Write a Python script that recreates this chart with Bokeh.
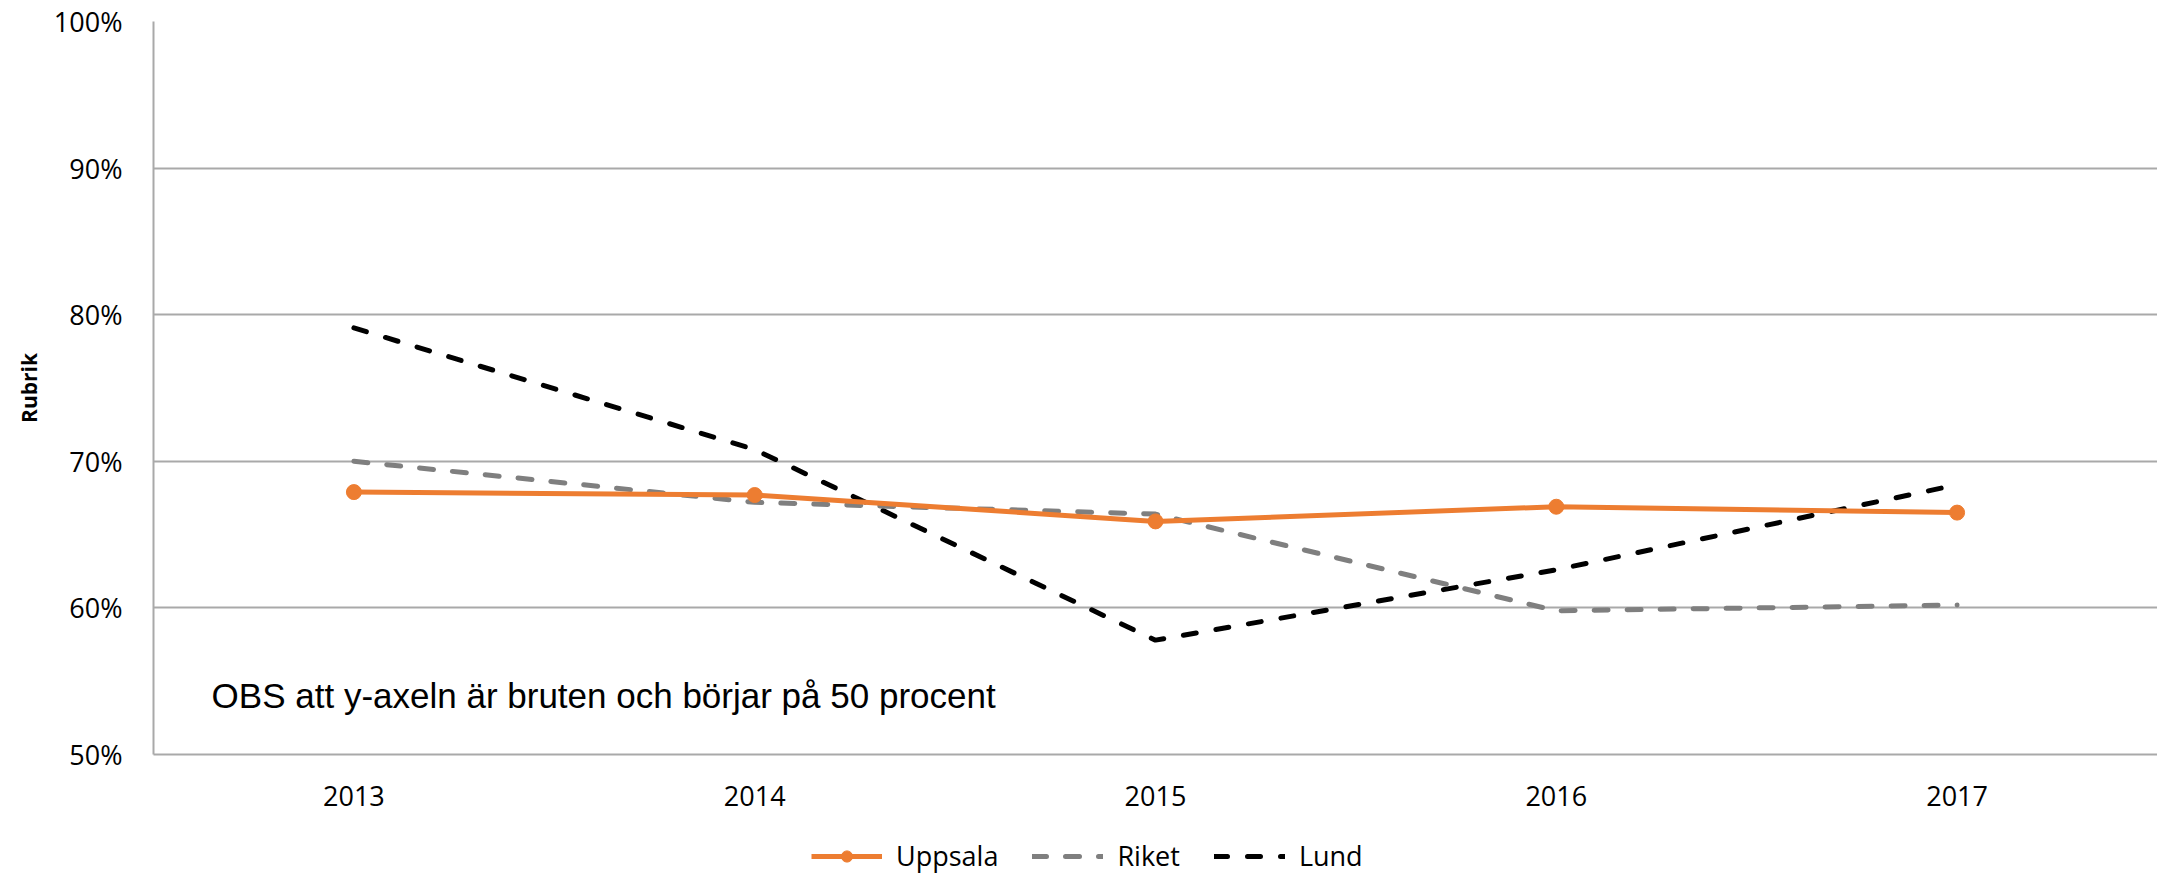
from bokeh.plotting import figure
from bokeh.layouts import column, row
from bokeh.models import (Range1d, FixedTicker, PrintfTickFormatter, Legend,
                          LegendItem, Label, ColumnDataSource, Spacer)
from bokeh.embed import file_html
from bokeh.resources import INLINE

years = [2013, 2014, 2015, 2016, 2017]
uppsala = [67.9, 67.7, 65.9, 66.9, 66.5]
riket = [70.0, 67.2, 66.4, 59.8, 60.2]
lund = [79.1, 70.8, 57.8, 62.6, 68.4]
y_ticks = [50, 60, 70, 80, 90, 100]
series_names = ["Uppsala", "Riket", "Lund"]
y_title = "Rubrik"
note = "OBS att y-axeln är bruten och börjar på 50 procent"

ORANGE = "#ED7D31"
GRAY = "#7F7F7F"
GRID = "#A9A9A9"
TICK_FONT = "Open Sans"

STYLE = {
    "Uppsala": dict(line_color=ORANGE, line_width=5),
    "Riket": dict(line_color=GRAY, line_width=5, line_dash="14 19", line_cap="round"),
    "Lund": dict(line_color="black", line_width=5, line_dash="13 20", line_cap="round"),
}
MARKER = dict(size=15, marker="circle", fill_color=ORANGE, line_color=ORANGE)

src = ColumnDataSource(dict(year=years, uppsala=uppsala, riket=riket, lund=lund))

TOTAL_W = 2157
LEFT_PAD = 11
MAIN_H = 820
LEG_H = 55
p = figure(width=TOTAL_W - LEFT_PAD, height=MAIN_H, output_backend="svg",
           toolbar_location=None,
           x_range=Range1d(years[0] - 0.5, years[-1] + 0.5),
           y_range=Range1d(y_ticks[0], y_ticks[-1]),
           min_border_left=142, min_border_right=0, min_border_top=21,
           min_border_bottom=66)
p.outline_line_color = None
p.background_fill_color = "white"
p.border_fill_color = "white"

# axes
p.xaxis.ticker = FixedTicker(ticks=years)
p.yaxis.ticker = FixedTicker(ticks=y_ticks)
p.yaxis.formatter = PrintfTickFormatter(format="%d%%")
for ax in (p.xaxis[0], p.yaxis[0]):
    ax.major_tick_in = 0
    ax.major_tick_out = 0
    ax.minor_tick_in = 0
    ax.minor_tick_out = 0
    ax.axis_line_color = GRID
    ax.axis_line_width = 2
    ax.major_label_text_font = TICK_FONT
    ax.major_label_text_font_size = "27px"
    ax.major_label_text_color = "black"
p.xaxis.major_label_standoff = 31
p.yaxis.major_label_standoff = 31
p.yaxis.axis_label = y_title
p.yaxis.axis_label_text_font = TICK_FONT
p.yaxis.axis_label_text_font_style = "bold"
p.yaxis.axis_label_text_font_size = "21px"
p.yaxis.axis_label_text_color = "black"
p.yaxis.axis_label_standoff = 8

p.xgrid.grid_line_color = None
p.ygrid.grid_line_color = GRID
p.ygrid.grid_line_width = 2

# series
p.line("year", "lund", source=src, **STYLE["Lund"])
p.line("year", "riket", source=src, **STYLE["Riket"])
p.line("year", "uppsala", source=src, **STYLE["Uppsala"])
p.scatter("year", "uppsala", source=src, **MARKER)

# note
p.add_layout(Label(x=2012.645, y=54.0, text=note, text_font="Liberation Sans",
                   text_font_size="35px", text_color="black",
                   text_baseline="alphabetic", text_align="left"))

# legend strip (separate figure below the chart)
lg = figure(width=TOTAL_W, height=LEG_H, output_backend="svg", toolbar_location=None,
            x_range=Range1d(0, 1), y_range=Range1d(0, 1),
            x_axis_type=None, y_axis_type=None,
            min_border_left=0, min_border_right=0, min_border_top=0,
            min_border_bottom=0)
lg.outline_line_color = None
lg.grid.grid_line_color = None
hidden = ColumnDataSource(dict(x=[-5.0], y=[-5.0]))  # outside the visible range
l_upp = lg.line("x", "y", source=hidden, **STYLE["Uppsala"])
l_upp_m = lg.scatter("x", "y", source=hidden, **MARKER)
l_riket = lg.line("x", "y", source=hidden, **STYLE["Riket"])
l_lund = lg.line("x", "y", source=hidden, **STYLE["Lund"])

legend = Legend(items=[
    LegendItem(label=series_names[0], renderers=[l_upp, l_upp_m]),
    LegendItem(label=series_names[1], renderers=[l_riket]),
    LegendItem(label=series_names[2], renderers=[l_lund]),
], orientation="horizontal", location=(811, 1))
legend.glyph_width = 71
legend.glyph_height = 28
legend.label_standoff = 14
legend.spacing = 34
legend.padding = 0
legend.margin = 0
legend.border_line_color = None
legend.background_fill_alpha = 0
legend.label_text_font = TICK_FONT
legend.label_text_font_size = "27px"
legend.label_text_color = "black"
lg.add_layout(legend, "center")

layout = column(row(Spacer(width=LEFT_PAD, height=MAIN_H), p, spacing=0), lg, spacing=0)
open("out.html", "w").write(file_html(layout, INLINE))
